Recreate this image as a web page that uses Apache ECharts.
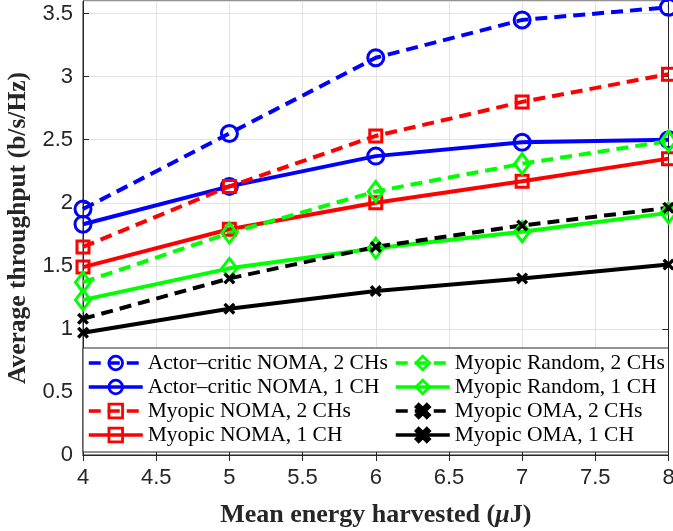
<!DOCTYPE html>
<html>
<head>
<meta charset="utf-8">
<script src="https://cdn.jsdelivr.net/npm/echarts@6/dist/echarts.min.js"></script>
<style>
  html, body { margin: 0; padding: 0; background: #fff; }
  #grafico { width: 673px; height: 531px; }
</style>
</head>
<body>
<div id="grafico"></div>
<script>
// --- Datos ---
const energia = [4, 5, 6, 7, 8];

const acNoma2 = [1.95, 2.55, 3.15, 3.45, 3.55];
const acNoma1 = [1.83, 2.13, 2.37, 2.48, 2.50];
const myNoma2 = [1.65, 2.13, 2.53, 2.80, 3.02];
const myNoma1 = [1.49, 1.79, 2.00, 2.17, 2.35];
const myRand2 = [1.37, 1.76, 2.09, 2.31, 2.49];
const myRand1 = [1.23, 1.48, 1.64, 1.77, 1.92];
const myOma2 = [1.08, 1.40, 1.65, 1.82, 1.96];
const myOma1 = [0.97, 1.16, 1.30, 1.40, 1.51];

const nombres = [
    "Actor\u2013critic NOMA, 2 CHs", "Actor\u2013critic NOMA, 1 CH",
    "Myopic NOMA, 2 CHs", "Myopic NOMA, 1 CH",
    "Myopic Random, 2 CHs", "Myopic Random, 1 CH",
    "Myopic OMA, 2 CHs", "Myopic OMA, 1 CH"
];

// --- Estilos ---
const AZUL = "#0000ff", ROJO = "#ff0000", VERDE = "#00ff00", NEGRO = "#000000";
const DASH = [12, 7];
const simboloX = "path://M0,2L2,0L5,3L8,0L10,2L7,5L10,8L8,10L5,7L2,10L0,8L3,5Z";

function serie(nombre, valores, color, discontinua, simbolo, tam) {
    const hueco = simbolo !== simboloX;
    return {
        name: nombre,
        type: "line",
        data: energia.map((x, i) => [x, valores[i]]),
        symbol: simbolo,
        symbolSize: tam,
        showSymbol: true,
        clip: false,
        lineStyle: { color: color, width: 4, type: discontinua ? DASH : "solid" },
        itemStyle: {
            color: hueco ? "rgba(255,255,255,0)" : color,
            borderColor: color,
            borderWidth: hueco ? 3 : 0
        },
        emphasis: { disabled: true }
    };
}

const ejeTexto = { color: "#262626", fontFamily: "Liberation Sans", fontSize: 22 };
const nombreEje = { color: "#262626", fontFamily: "Liberation Serif", fontWeight: "bold", fontSize: 26 };
const rejilla = { show: true, lineStyle: { color: "#e3e3e3", width: 1 } };
const tick = { show: true, inside: true, length: 6, lineStyle: { color: "#262626" } };
const linea = { show: true, lineStyle: { color: "#262626", width: 1 } };

const leyendaTexto = { fontFamily: "Liberation Serif", fontSize: 21.5, color: "#000", lineHeight: 24 };
const leyendaBase = {
    orient: "vertical", top: 351,
    itemWidth: 54, itemHeight: 17, itemGap: 0, padding: [0, 0, 0, 5],
    textStyle: leyendaTexto, z: 4, selectedMode: false,
    lineStyle: { width: 3.5 },
    itemStyle: { borderWidth: 2.8 }
};

var myChart = echarts.init(document.getElementById("grafico"));

myChart.setOption({
    animation: false,
    backgroundColor: "#fff",
    grid: {
        left: 83, right: 4.5, top: 1, bottom: 76,
        outerBoundsMode: "none", containLabel: false,
        show: true, borderColor: "#262626", borderWidth: 1
    },
    xAxis: [
        {
            type: "value", min: 4, max: 8, interval: 0.5,
            name: "Mean energy harvested ({i|\u03bc}J)", nameLocation: "middle", nameGap: 47,
            nameTextStyle: Object.assign({
                rich: { i: { fontFamily: "Liberation Serif", fontWeight: "bold", fontStyle: "italic", fontSize: 26, color: "#262626" } }
            }, nombreEje),
            axisLine: linea, axisTick: tick, splitLine: rejilla,
            axisLabel: Object.assign({ margin: 12 }, ejeTexto)
        },
        {
            type: "value", min: 4, max: 8, interval: 0.5, position: "top",
            axisLine: linea, axisTick: tick, splitLine: { show: false }, axisLabel: { show: false }
        }
    ],
    yAxis: [
        {
            type: "value", min: 0, max: 3.6, interval: 0.5,
            name: "Average throughput (b/s/Hz)", nameLocation: "middle", nameGap: 42,
            nameTextStyle: Object.assign({}, nombreEje, { fontSize: 25.5 }),
            axisLine: linea, axisTick: tick, splitLine: rejilla,
            axisLabel: Object.assign({ margin: 10, showMaxLabel: false }, ejeTexto)
        },
        {
            type: "value", min: 0, max: 3.6, interval: 0.5, position: "right",
            axisLine: linea, axisTick: tick, splitLine: { show: false }, axisLabel: { show: false }
        }
    ],
    graphic: [
        {
            type: "rect", z: 3,
            shape: { x: 83, y: 348, width: 585.5, height: 104 },
            style: { fill: "#fff", stroke: "#262626", lineWidth: 1 }
        }
    ],
    legend: [
        Object.assign({ data: nombres.slice(0, 4), left: 82 }, leyendaBase),
        Object.assign({ data: nombres.slice(4), left: 389 }, leyendaBase)
    ],
    series: [
        serie(nombres[0], acNoma2, AZUL, true, "circle", 16),
        serie(nombres[1], acNoma1, AZUL, false, "circle", 16),
        serie(nombres[2], myNoma2, ROJO, true, "rect", 12),
        serie(nombres[3], myNoma1, ROJO, false, "rect", 12),
        serie(nombres[4], myRand2, VERDE, true, "diamond", [15, 20]),
        serie(nombres[5], myRand1, VERDE, false, "diamond", [15, 20]),
        serie(nombres[6], myOma2, NEGRO, true, simboloX, 12),
        serie(nombres[7], myOma1, NEGRO, false, simboloX, 12)
    ]
});
</script>
</body>
</html>
